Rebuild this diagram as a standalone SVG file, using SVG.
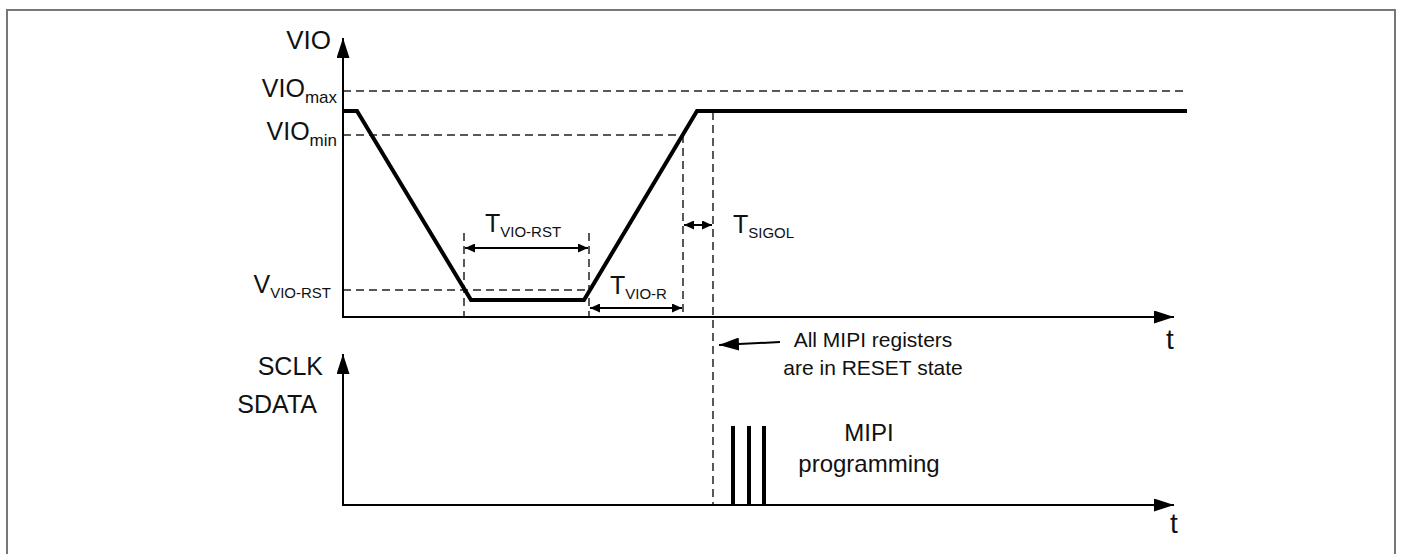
<svg xmlns="http://www.w3.org/2000/svg" width="1402" height="554" viewBox="0 0 1402 554">
<style>
text{font-family:"Liberation Sans",Arial,sans-serif;fill:#111}
.lbl{font-size:25px}
.sub{font-size:15px}
.note{font-size:21px}
.axis{stroke:#000;stroke-width:2;fill:none}
.sig{stroke:#000;stroke-width:4;fill:none;stroke-linejoin:miter}
.dash{stroke:#222;stroke-width:1.5;stroke-dasharray:8 5;fill:none}
.dim{stroke:#000;stroke-width:2;fill:none}
</style>
<defs>
<marker id="big" markerUnits="userSpaceOnUse" markerWidth="20" markerHeight="13" refX="20" refY="6.5" orient="auto"><path d="M0,0 L20,6.5 L0,13 z" fill="#000"/></marker>
<marker id="sm" markerUnits="userSpaceOnUse" markerWidth="10" markerHeight="9" refX="10" refY="4.5" orient="auto-start-reverse"><path d="M0,0 L10,4.5 L0,9 z" fill="#000"/></marker>
</defs>
<rect x="7" y="10" width="1388" height="560" fill="#fff" stroke="#777" stroke-width="2"/>

<g id="connectors">
<line class="dash" x1="343" y1="91" x2="1186" y2="91"/>
<line class="dash" x1="343" y1="135" x2="683" y2="135"/>
<line class="dash" x1="343" y1="290" x2="589" y2="290"/>
<line class="dash" x1="464" y1="233" x2="464" y2="317"/>
<line class="dash" x1="589" y1="233" x2="589" y2="317"/>
<line class="dash" x1="683" y1="135" x2="683" y2="317"/>
<line class="dash" x1="713" y1="112" x2="713" y2="505"/>
<line class="axis" x1="343" y1="318" x2="343" y2="38" marker-end="url(#big)"/>
<line class="axis" x1="342" y1="317" x2="1174" y2="317" marker-end="url(#big)"/>
<line class="axis" x1="343" y1="506" x2="343" y2="354" marker-end="url(#big)"/>
<line class="axis" x1="342" y1="505" x2="1174" y2="505" marker-end="url(#big)"/>
<polyline class="sig" points="343,111 357,111 471,300 584,300 697,111 1187,111"/>
<line class="dim" x1="465" y1="248" x2="588" y2="248" marker-start="url(#sm)" marker-end="url(#sm)"/>
<line class="dim" x1="590" y1="308" x2="682" y2="308" marker-start="url(#sm)" marker-end="url(#sm)"/>
<line class="dim" x1="684" y1="225" x2="712" y2="225" marker-start="url(#sm)" marker-end="url(#sm)"/>
<line class="dim" x1="780" y1="342" x2="719" y2="345" marker-end="url(#big)"/>
<line x1="733" y1="426" x2="733" y2="505" stroke="#000" stroke-width="4"/>
<line x1="749" y1="426" x2="749" y2="505" stroke="#000" stroke-width="4"/>
<line x1="764" y1="426" x2="764" y2="505" stroke="#000" stroke-width="4"/>
</g>

<g id="labels">
<text class="lbl" x="331" y="49" text-anchor="end" font-size="26" style="font-size:26px">VIO</text>
<text class="lbl" x="337" y="97" text-anchor="end">VIO<tspan font-size="17" style="font-size:17px" dy="6">max</tspan></text>
<text class="lbl" x="337" y="140" text-anchor="end">VIO<tspan style="font-size:17px" dy="6">min</tspan></text>
<text class="lbl" x="331" y="293" text-anchor="end">V<tspan class="sub" dy="5">VIO-RST</tspan></text>
<text class="lbl" x="485" y="232">T<tspan class="sub" dy="5">VIO-RST</tspan></text>
<text class="lbl" x="610" y="294">T<tspan class="sub" dy="5">VIO-R</tspan></text>
<text class="lbl" x="733" y="233">T<tspan class="sub" dy="5">SIGOL</tspan></text>
<text x="1166" y="349" style="font-size:28px">t</text>
<text x="1170" y="533" style="font-size:28px">t</text>
<text class="lbl" x="323" y="375" text-anchor="end">SCLK</text>
<text class="lbl" x="317" y="413" text-anchor="end">SDATA</text>
<text class="note" x="873" y="347" text-anchor="middle">All MIPI registers</text>
<text class="note" x="873" y="375" text-anchor="middle">are in RESET state</text>
<text x="869" y="441" text-anchor="middle" style="font-size:24px">MIPI</text>
<text x="869" y="472" text-anchor="middle" style="font-size:24px">programming</text>
</g>
</svg>
